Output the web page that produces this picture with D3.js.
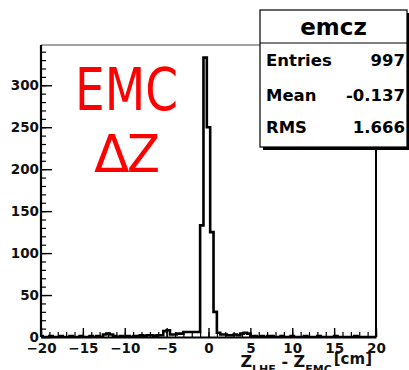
<!DOCTYPE html>
<html>
<head>
<meta charset="utf-8">
<script src="https://cdn.jsdelivr.net/npm/d3@7"></script>
<style>
  body { margin: 0; background: #fff; }
  svg { display: block; }
  text { font-family: "DejaVu Sans", sans-serif; }
</style>
</head>
<body>
<div id="chart-container"></div>
<script>
let width = 409;
let height = 370;
let margin = ({top: 45, right: 33, bottom: 33, left: 41});

// histogram: bins of 0.4 cm, first bin starts at -20.6 (centres -20.4, -20.0, ...)
const binLow = -20.6;
const binWidth = 0.4;
const binCounts = [
  0, 1, 0, 0, 1, 0, 0, 1, 0, 0,   // -20.4 .. -16.8
  1, 0, 0, 1, 0, 0, 1, 0, 1, 0,   // -16.4 .. -12.8
  3, 4, 3, 1, 0, 1, 0, 1, 0, 1,   // -12.4 .. -8.8
  1, 2, 1, 2, 2, 1, 2, 2, 7, 8,   //  -8.4 .. -4.8
  3, 3, 4, 4, 6, 6, 6, 6, 6, 133, //  -4.4 .. -0.8
  333, 250, 125, 30, 5, 3, 3, 2, 2, 3,   // -0.4 .. 3.2
  2, 4, 5, 4, 1, 1, 0, 1, 0, 1,          //  3.6 .. 7.2
  1, 0, 0, 1, 0, 0, 1, 0, 0, 0,          //  7.6 .. 11.2
  1, 0, 0, 0, 1, 0, 0, 0, 0, 1,          // 11.6 .. 15.2
  0, 0, 0, 0, 0, 1, 0, 0, 0, 0,          // 15.6 .. 19.2
  0, 0                                   // 19.6 .. 20.0
];

const xMajorTicks = [-20, -15, -10, -5, 0, 5, 10, 15, 20];
const xMinorTicks = d3.range(-20, 21, 1);
const yMajorTicks = [0, 50, 100, 150, 200, 250, 300];
const yMinorTicks = d3.range(0, 341, 10);

const statsTitle = "emcz";
const statsRows = [["Entries", "997"], ["Mean", "-0.137"], ["RMS", "1.666"]];

const x = d3.scaleLinear()
    .domain([-20, 20])
    .range([margin.left, width - margin.right]);

const y = d3.scaleLinear()
    .domain([0, 348])
    .range([height - margin.bottom, margin.top]);

const svg = d3.select("#chart-container")
    .append("svg")
    .attr("width", width)
    .attr("height", height);

svg.append("defs").append("clipPath")
    .attr("id", "plot-clip")
    .append("rect")
    .attr("x", margin.left)
    .attr("y", margin.top - 2)
    .attr("width", width - margin.right - margin.left)
    .attr("height", height - margin.bottom - margin.top + 2);

// frame top / right
svg.append("line")
    .attr("x1", margin.left).attr("x2", width - margin.right)
    .attr("y1", margin.top).attr("y2", margin.top)
    .attr("stroke", "#444").attr("stroke-width", 1.2);
svg.append("line")
    .attr("x1", width - margin.right).attr("x2", width - margin.right)
    .attr("y1", margin.top).attr("y2", height - margin.bottom)
    .attr("stroke", "#000").attr("stroke-width", 2);

// histogram outline (step line)
const pts = [[binLow, 0]];
binCounts.forEach((c, i) => {
    pts.push([binLow + i * binWidth, c]);
    pts.push([binLow + (i + 1) * binWidth, c]);
});
pts.push([binLow + binCounts.length * binWidth, 0]);

svg.append("path")
    .attr("clip-path", "url(#plot-clip)")
    .attr("d", d3.line().x(d => x(d[0])).y(d => y(d[1]))(pts))
    .attr("fill", "none")
    .attr("stroke", "#000")
    .attr("stroke-width", 2.6)
    .attr("stroke-linejoin", "miter");

// axes
const xAxisMinor = g => g
    .attr("transform", `translate(0,${height - margin.bottom})`)
    .call(d3.axisBottom(x).tickValues(xMinorTicks).tickSizeInner(-5).tickSizeOuter(0).tickFormat(""))
    .call(g => g.select(".domain").remove());

const xAxis = g => g
    .attr("transform", `translate(0,${height - margin.bottom})`)
    .call(d3.axisBottom(x).tickValues(xMajorTicks).tickSizeInner(-9).tickSizeOuter(0).tickPadding(6))
    .call(g => g.select(".domain").attr("stroke-width", 2.2));

const yAxisMinor = g => g
    .attr("transform", `translate(${margin.left},0)`)
    .call(d3.axisLeft(y).tickValues(yMinorTicks).tickSizeInner(-5).tickSizeOuter(0).tickFormat(""))
    .call(g => g.select(".domain").remove());

const yAxis = g => g
    .attr("transform", `translate(${margin.left},0)`)
    .call(d3.axisLeft(y).tickValues(yMajorTicks).tickSizeInner(-11).tickSizeOuter(0).tickPadding(2))
    .call(g => g.select(".domain").attr("d", `M0,${margin.top}V${height - margin.bottom}`).attr("stroke-width", 2.2));

svg.append("g").call(xAxisMinor).selectAll("line").attr("stroke-width", 1.2);
svg.append("g").call(yAxisMinor).selectAll("line").attr("stroke-width", 1.2);
svg.append("g").attr("class", "x-axis").call(xAxis);
svg.append("g").attr("class", "y-axis").call(yAxis);

svg.selectAll(".x-axis line, .y-axis line").attr("stroke-width", 1.4);
svg.selectAll(".x-axis text, .y-axis text")
    .attr("font-family", "DejaVu Sans")
    .attr("font-weight", "bold")
    .attr("font-size", 13.5)
    .attr("fill", "#111");

// x title (overlaps the tick labels, as in the original)
const title = svg.append("text")
    .attr("x", 372)
    .attr("y", 367)
    .attr("text-anchor", "end")
    .attr("font-weight", "bold")
    .attr("font-size", 16)
    .attr("fill", "#111");
title.append("tspan").text("Z");
title.append("tspan").attr("font-size", 11).attr("dy", 6).text("LHE");
title.append("tspan").attr("dy", -6).text(" - Z");
title.append("tspan").attr("font-size", 11).attr("dy", 6).text("EMC");
title.append("tspan").attr("dy", -9).attr("dx", 2).attr("font-size", 15).text("[cm]");

// red annotation
svg.append("text")
    .attr("x", 75).attr("y", 110)
    .attr("font-family", "Noto Sans")
    .attr("font-size", 58)
    .attr("fill", "#ff0000")
    .attr("textLength", 103)
    .attr("lengthAdjust", "spacingAndGlyphs")
    .text("EMC");
svg.append("text")
    .attr("x", 94).attr("y", 172)
    .attr("font-family", "Liberation Serif")
    .attr("font-size", 52)
    .attr("fill", "#ff0000")
    .text("Δ");
svg.append("text")
    .attr("x", 127).attr("y", 172)
    .attr("font-family", "Noto Sans")
    .attr("font-size", 52)
    .attr("fill", "#ff0000")
    .attr("textLength", 33)
    .attr("lengthAdjust", "spacingAndGlyphs")
    .text("Z");

// stats box
const box = {x0: 260, y0: 10, x1: 407, y1: 147, sep: 43};
svg.append("rect")
    .attr("x", box.x0 + 3).attr("y", box.y0 + 3)
    .attr("width", box.x1 - box.x0).attr("height", box.y1 - box.y0)
    .attr("fill", "#000");
svg.append("rect")
    .attr("x", box.x0).attr("y", box.y0)
    .attr("width", box.x1 - box.x0).attr("height", box.y1 - box.y0)
    .attr("fill", "#fff").attr("stroke", "#000").attr("stroke-width", 1.2);
svg.append("line")
    .attr("x1", box.x0).attr("x2", box.x1)
    .attr("y1", box.sep).attr("y2", box.sep)
    .attr("stroke", "#000").attr("stroke-width", 1.2);
svg.append("text")
    .attr("x", (box.x0 + box.x1) / 2).attr("y", 35)
    .attr("text-anchor", "middle")
    .attr("font-weight", "bold").attr("font-size", 23)
    .text(statsTitle);

const rowY = [66, 101, 133];
statsRows.forEach(([label, value], i) => {
    svg.append("text")
        .attr("x", 266).attr("y", rowY[i])
        .attr("font-weight", "bold").attr("font-size", 16.5)
        .text(label);
    svg.append("text")
        .attr("x", 405).attr("y", rowY[i])
        .attr("text-anchor", "end")
        .attr("font-weight", "bold").attr("font-size", 16.5)
        .text(value);
});
</script>
</body>
</html>
